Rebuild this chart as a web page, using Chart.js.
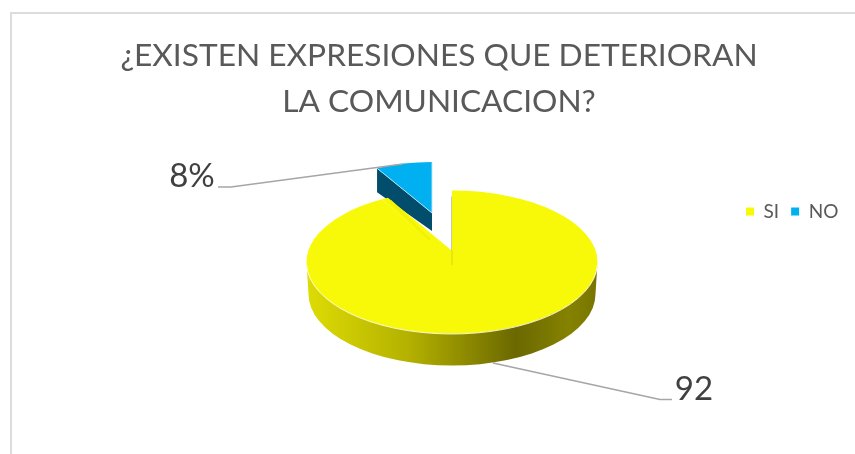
<!DOCTYPE html>
<html>
<head>
<meta charset="utf-8">
<style>
html,body{margin:0;padding:0;background:#fff;overflow:hidden;width:855px;height:454px}
#wrap{position:absolute;left:0;top:0;width:855px;height:454px}
#frame{position:absolute;left:10px;top:12px;width:845px;height:442px;border-left:2px solid #dcdcdc;border-top:2px solid #dcdcdc;box-sizing:border-box}
canvas{position:absolute;left:0;top:0}
</style>
<script src="https://cdn.jsdelivr.net/npm/chart.js@4"></script>
</head>
<body>
<div id="wrap"><canvas id="c" width="855" height="454"></canvas><div id="frame"></div></div>
<script>
const categories = ['SI', 'NO'];
const values = [92, 8];
const valueLabels = ['92', '8%'];
const titleLines = ['¿EXISTEN EXPRESIONES QUE DETERIORAN', 'LA COMUNICACION?'];
const sliceColors = ['#f8f908', '#00b0f0'];

// presentation of the tilted pie
const PIE = {cx:452, cy:262, rx:145.5, ry:71.5, depth:32, apexLift:12};
const BLUE = {cx:432, cy:213, rx:114, ry:51, wall:'#024d6c', depthNear:18, depthFar:24};
const LEADERS = [
  [[493,363],[660,399.5],[672,399.5]],
  [[403,164],[231,187],[218,187]]
];
const LABEL_POS = [{x:694,y:389},{x:192,y:176}];
const FONT = 'Lato, "Open Sans", sans-serif';

const pie3d = {
  id:'pie3d',
  afterLayout(chart){
    const t = chart.titleBlock; t.left = 23; t.right = 855;
    const l = chart.legend; l.left = 734; l.right = 855; l.top = 190; l.bottom = 190 + l.height;
  },
  beforeDatasetsDraw(chart){
    const ctx = chart.ctx;
    const arcs = chart.getDatasetMeta(0).data;
    const [yes, no] = arcs;
    // blue slice: radial wall then surface, exploded and foreshortened
    const bp = no.getProps(['x','y','startAngle','endAngle','outerRadius']);
    const bx = BLUE.cx + Math.cos(bp.startAngle)*BLUE.rx, by = BLUE.cy + Math.sin(bp.startAngle)*BLUE.ry;
    ctx.save();
    ctx.fillStyle = BLUE.wall;
    ctx.beginPath();
    ctx.moveTo(bx,by); ctx.lineTo(BLUE.cx,BLUE.cy);
    ctx.lineTo(BLUE.cx,BLUE.cy+BLUE.depthNear); ctx.lineTo(bx,by+BLUE.depthFar);
    ctx.closePath(); ctx.fill();
    ctx.restore();
    ctx.save();
    ctx.translate(BLUE.cx,BLUE.cy);
    ctx.scale(BLUE.rx/bp.outerRadius,BLUE.ry/bp.outerRadius);
    ctx.translate(-bp.x,-bp.y);
    no.draw(ctx);
    ctx.restore();
    ctx.save();
    ctx.strokeStyle='rgba(190,232,250,.9)'; ctx.lineWidth=1;
    ctx.beginPath(); ctx.moveTo(bx,by); ctx.lineTo(BLUE.cx,BLUE.cy); ctx.lineTo(BLUE.cx,BLUE.cy-BLUE.ry); ctx.stroke();
    ctx.restore();

    // leaders sit beneath the yellow slice
    ctx.save();
    ctx.strokeStyle='#a6a6a6'; ctx.lineWidth=1.5; ctx.lineJoin='round';
    LEADERS.forEach(p=>{ ctx.beginPath(); p.forEach((q,i)=>i?ctx.lineTo(q[0],q[1]):ctx.moveTo(q[0],q[1])); ctx.stroke(); });
    ctx.restore();

    // yellow slice: wall then surface
    const yp = yes.getProps(['x','y','startAngle','endAngle','outerRadius']);
    const g = ctx.createLinearGradient(PIE.cx-PIE.rx,0,PIE.cx+PIE.rx,0);
    g.addColorStop(0,'#dedc04'); g.addColorStop(.35,'#b4b100'); g.addColorStop(.72,'#6b6800'); g.addColorStop(.9,'#858200'); g.addColorStop(1,'#787500');
    ctx.save();
    ctx.fillStyle = g;
    ctx.beginPath();
    ctx.ellipse(PIE.cx,PIE.cy,PIE.rx,PIE.ry,0,0,Math.PI);
    ctx.ellipse(PIE.cx,PIE.cy+PIE.depth,PIE.rx-2,PIE.ry,0,Math.PI,0,true);
    ctx.closePath(); ctx.fill();
    ctx.restore();
    ctx.save();
    ctx.translate(PIE.cx,PIE.cy);
    ctx.scale(PIE.rx/yp.outerRadius,PIE.ry/yp.outerRadius);
    ctx.translate(-yp.x,-yp.y);
    yes.draw(ctx);
    ctx.restore();
    // perspective: the true apex sits above the ellipse centre
    ctx.save();
    ctx.fillStyle = sliceColors[0];
    ctx.beginPath();
    ctx.moveTo(PIE.cx,PIE.cy+1);
    ctx.ellipse(PIE.cx,PIE.cy,PIE.rx,PIE.ry,0,yp.endAngle,yp.endAngle+0.047);
    ctx.lineTo(PIE.cx-1,PIE.cy-PIE.apexLift);
    ctx.lineTo(PIE.cx+1,PIE.cy-PIE.apexLift);
    ctx.lineTo(PIE.cx+1,PIE.cy+1);
    ctx.closePath(); ctx.fill();
    // shaded fold at the apex and along the cut
    ctx.fillStyle='#e6e610';
    ctx.fillRect(PIE.cx-1,PIE.cy-PIE.apexLift,2,15);
    ctx.strokeStyle='#f3f206'; ctx.lineWidth=3;
    ctx.beginPath(); ctx.moveTo(PIE.cx-62,PIE.cy-61); ctx.lineTo(PIE.cx-22,PIE.cy-22); ctx.stroke();
    ctx.strokeStyle='#c9c9a8'; ctx.lineWidth=1;
    ctx.beginPath(); ctx.moveTo(PIE.cx-.5,PIE.cy-PIE.ry+6); ctx.lineTo(PIE.cx-.5,PIE.cy-PIE.apexLift); ctx.stroke();
    // bright bevel on the front rim
    ctx.strokeStyle='rgba(255,255,225,.9)'; ctx.lineWidth=1;
    ctx.beginPath(); ctx.ellipse(PIE.cx,PIE.cy+.5,PIE.rx,PIE.ry,0,0.03,Math.PI-0.03); ctx.stroke();
    ctx.restore();

    // value labels
    ctx.save();
    ctx.fillStyle='#404040'; ctx.font='33px '+FONT; ctx.textAlign='center'; ctx.textBaseline='middle';
    valueLabels.forEach((s,i)=>ctx.fillText(s,LABEL_POS[i].x,LABEL_POS[i].y));
    ctx.restore();
    return false;
  }
};

new Chart(document.getElementById('c'),{
  type:'pie',
  data:{labels:categories,datasets:[{data:values,backgroundColor:sliceColors,borderWidth:0}]},
  options:{
    responsive:false,animation:false,events:[],
    layout:{padding:0},
    plugins:{
      title:{display:true,text:titleLines,color:'#595959',font:{family:FONT,size:31.7,weight:'normal',lineHeight:1.45},padding:{top:33,bottom:0}},
      legend:{position:'top',align:'start',labels:{boxWidth:8,boxHeight:8,padding:12,color:'#595959',font:{family:FONT,size:19}}},
      tooltip:{enabled:false}
    }
  },
  plugins:[pie3d]
});
</script>
</body>
</html>
